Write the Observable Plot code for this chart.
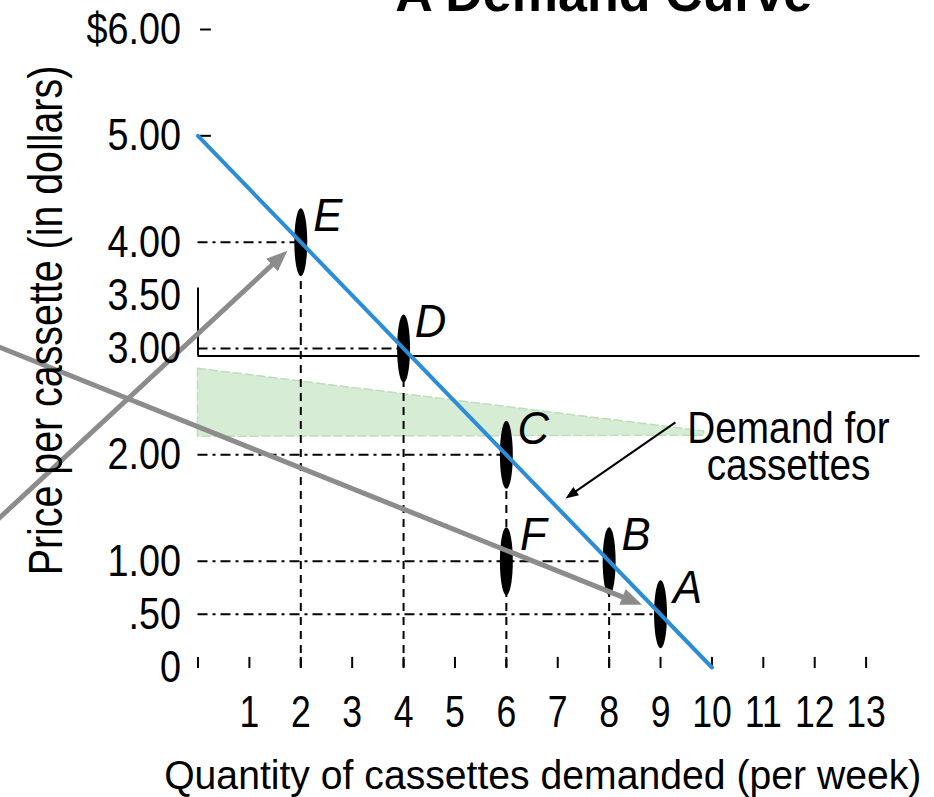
<!DOCTYPE html>
<html>
<head>
<meta charset="utf-8">
<script src="https://cdn.jsdelivr.net/npm/d3@7"></script>
<script src="https://cdn.jsdelivr.net/npm/@observablehq/plot@0.6"></script>
<style>
  html, body { margin: 0; padding: 0; background: #fff; }
  #chart { width: 934px; height: 797px; overflow: hidden; }
</style>
</head>
<body>
<div id="chart"></div>
<script>
// ---------------- data ----------------
const titleText = "A Demand Curve";
const xTitle = "Quantity of cassettes demanded (per week)";
const yTitle = "Price per cassette (in dollars)";

const pointNames = ["A", "B", "C", "D", "E", "F"];
const pointQty = [9, 8, 6, 4, 2, 6];
const pointPrice = [0.5, 1, 2, 3, 4, 1];

const demandQty = [0, 10];
const demandPrice = [5, 0];

const demandLabel = "Demand for\ncassettes";
const demandLabelQty = [11.49];
const demandLabelPrice = [1.76];

const xTickValues = [0, 1, 2, 3, 4, 5, 6, 7, 8, 9, 10, 11, 12, 13];
const xTickLabels = ["", "1", "2", "3", "4", "5", "6", "7", "8", "9", "10", "11", "12", "13"];
const yTickValues = [0, 0.5, 1, 2, 3, 3.5, 4, 5, 6];
const yTickLabels = ["0", ".50", "1.00", "2.00", "3.00", "3.50", "4.00", "5.00", "$6.00"];
const yTickMarkValues = [5, 6];

// dash-dot guides (horizontal) and dashed guides (vertical)
const hGuideQty = [9, 8, 6, 4, 2];
const hGuidePrice = [0.5, 1, 2, 3, 4];
const vGuideQty = [8, 6, 4, 2];
const vGuidePrice = [1, 2, 3, 4];

// light green wedge
const bandQty = [0, 9.85];
const bandLow = [2.17, 2.18];
const bandHigh = [2.81, 2.22];

// stray black frame lines
const frameLinePrice = [2.93];
const frameLineQty = [0, 14.05];
const frameStubPrice = [2.93, 3.57];

// grey arrows (from -> to)
const greyFromQty = [-3.9, -3.9];
const greyFromPrice = [3.02, 1.39];
const greyToQty = [8.64, 1.74];
const greyToPrice = [0.59, 3.92];

// black label arrow
const labelArrowFromQty = [9.29];
const labelArrowFromPrice = [2.305];
const labelArrowToQty = [7.15];
const labelArrowToPrice = [1.59];

// ---------------- layout ----------------
const W = 934, H = 797;
const mLeft = 197.5, mRight = 17, mTop = 29, mBottom = 130;
const xDomain = [0, 14], yDomain = [0, 6];
const sx = d3.scaleLinear(xDomain, [mLeft, W - mRight]);
const sy = d3.scaleLinear(yDomain, [H - mBottom, mTop]);

const points = pointNames.map((n, i) => ({name: n, q: pointQty[i], p: pointPrice[i]}));
const demand = demandQty.map((q, i) => ({q, p: demandPrice[i]}));
const hGuides = hGuideQty.map((q, i) => ({q, p: hGuidePrice[i]}));
const vGuides = vGuideQty.map((q, i) => ({q, p: vGuidePrice[i]}));
const band = bandQty.map((q, i) => ({q, lo: bandLow[i], hi: bandHigh[i]}));

// ellipse symbol
const ellipseSymbol = {
  draw(ctx, size) {
    const ry = Math.sqrt(size / Math.PI), rx = ry * 0.19, k = 0.5523;
    ctx.moveTo(0, -ry);
    ctx.bezierCurveTo(k * rx, -ry, rx, -k * ry, rx, 0);
    ctx.bezierCurveTo(rx, k * ry, k * rx, ry, 0, ry);
    ctx.bezierCurveTo(-k * rx, ry, -rx, k * ry, -rx, 0);
    ctx.bezierCurveTo(-rx, -k * ry, -k * rx, -ry, 0, -ry);
    ctx.closePath();
  }
};
function triSymbol(angle, L, Wd) {
  return {
    draw(ctx) {
      const c = Math.cos(angle), s = Math.sin(angle);
      ctx.moveTo(0, 0);
      ctx.lineTo(-L * c - (Wd / 2) * s, -L * s + (Wd / 2) * c);
      ctx.lineTo(-L * c + (Wd / 2) * s, -L * s - (Wd / 2) * c);
      ctx.closePath();
    }
  };
}
function arrowMarks(fq, fp, tq, tp, color, width, L, Wd) {
  const x1 = sx(fq), y1 = sy(fp), x2 = sx(tq), y2 = sy(tp);
  const a = Math.atan2(y2 - y1, x2 - x1);
  const bx = x2 - Math.cos(a) * (L - 1), by = y2 - Math.sin(a) * (L - 1);
  const d = [{fq, fp, tq, tp, bq: sx.invert(bx), bp: sy.invert(by)}];
  return [
    Plot.link(d, {x1: "fq", y1: "fp", x2: "bq", y2: "bp", stroke: color, strokeWidth: width}),
    Plot.dot(d, {x: "tq", y: "tp", r: 10, symbol: triSymbol(a, L, Wd), fill: color, stroke: "none"})
  ];
}

const greyArrows = greyFromQty.flatMap((q, i) =>
  arrowMarks(q, greyFromPrice[i], greyToQty[i], greyToPrice[i], "#8c8c8c", 5, 21, 17));
const labelArrow = arrowMarks(labelArrowFromQty[0], labelArrowFromPrice[0], labelArrowToQty[0], labelArrowToPrice[0], "#000", 2, 13, 10);

const plot = Plot.plot({
  width: W, height: H,
  marginLeft: mLeft, marginRight: mRight, marginTop: mTop, marginBottom: mBottom,
  x: {domain: xDomain, axis: null},
  y: {domain: yDomain, axis: null},
  style: {fontFamily: "'Liberation Sans', Arial, sans-serif", background: "white", color: "black", overflow: "visible"},
  marks: [
    Plot.areaY(band, {x: "q", y1: "lo", y2: "hi", fill: "#d2ead0", fillOpacity: 0.9, stroke: "#bcdfb7", strokeWidth: 1.5, strokeDasharray: "8,4"}),
    Plot.ruleY(hGuides, {y: "p", x1: 0, x2: "q", stroke: "#000", strokeWidth: 2, strokeDasharray: "10,5,3,5"}),
    Plot.ruleX(vGuides, {x: "q", y1: 0, y2: "p", stroke: "#000", strokeWidth: 2, strokeDasharray: "8,6"}),
    Plot.ruleX(xTickValues, {x: d => d, y1: -0.01, y2: 0.095, stroke: "#000", strokeWidth: 2}),
    Plot.ruleY(yTickMarkValues, {y: d => d, x1: 0.05, x2: 0.26, stroke: "#000", strokeWidth: 2}),
    Plot.ruleY(frameLinePrice, {y: d => d, x1: frameLineQty[0], x2: frameLineQty[1], stroke: "#000", strokeWidth: 2}),
    Plot.ruleX([frameLineQty[0]], {x: d => d, y1: frameStubPrice[0], y2: frameStubPrice[1], stroke: "#000", strokeWidth: 2}),
    Plot.dot(points, {x: "q", y: "p", r: 34, symbol: ellipseSymbol, fill: "#000", stroke: "none"}),
    Plot.line(demand, {x: "q", y: "p", stroke: "#2b8cd8", strokeWidth: 4}),
    ...greyArrows,
    ...labelArrow,
    // texts
    Plot.text(points, {x: "q", y: "p", text: "name", dx: 27, dy: -26, fontSize: 46, fontStyle: "italic", textAnchor: "middle", lineAnchor: "middle"}),
    Plot.text(yTickValues, {x: 0, y: d => d, text: (d, i) => yTickLabels[i], dx: -17, fontSize: 45, textAnchor: "end", lineAnchor: "middle"}),
    Plot.text(xTickValues, {x: d => d, y: 0, text: (d, i) => xTickLabels[i], dy: 45, fontSize: 44.5, textAnchor: "middle", lineAnchor: "middle"}),
    Plot.text([demandLabel], {x: () => demandLabelQty[0], y: () => demandLabelPrice[0], text: d => d, fontSize: 44, lineHeight: 0.84, textAnchor: "middle", lineAnchor: "bottom"}),
    Plot.text([xTitle], {frameAnchor: "bottom", text: d => d, dx: -15, dy: 108, fontSize: 41, textAnchor: "middle", lineAnchor: "middle"}),
    Plot.text([yTitle], {frameAnchor: "left", text: d => d, rotate: -90, dx: -151, dy: -28, fontSize: 48, textAnchor: "middle", lineAnchor: "middle"}),
    Plot.text([titleText], {frameAnchor: "top", text: d => d, dx: 46, dy: -19, fontSize: 52, fontWeight: "bold", textAnchor: "middle", lineAnchor: "bottom"})
  ]
});

document.getElementById("chart").appendChild(plot);

// horizontally condense text (the original uses a narrow face)
const squeeze = {"45": 0.84, "44.5": 0.8, "41": 0.955, "48": 0.82, "46": 0.95, "44": 0.88, "52": 1.0};
d3.select(plot).selectAll("text").each(function () {
  const cs = getComputedStyle(this);
  const fs = String(parseFloat(cs.fontSize));
  const s = squeeze[fs];
  if (!s || s === 1) return;
  const xa = this.getAttribute("x");
  const ax = xa != null ? +xa : 0;
  const tr = this.getAttribute("transform") || "";
  this.setAttribute("transform", `${tr} translate(${ax},0) scale(${s},1) translate(${-ax},0)`);
});
</script>
</body>
</html>
